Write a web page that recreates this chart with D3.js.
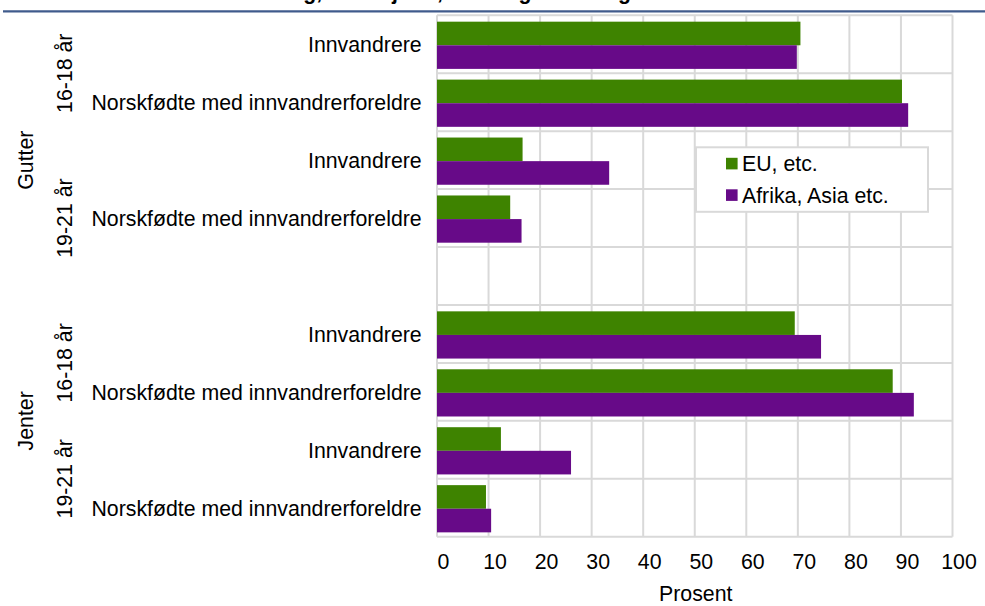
<!DOCTYPE html>
<html>
<head>
<meta charset="utf-8">
<script src="https://cdn.jsdelivr.net/npm/d3@7"></script>
<style>
  html, body { margin: 0; padding: 0; background: #ffffff; }
  svg { display: block; font-family: "Liberation Sans", Arial, sans-serif; }
</style>
</head>
<body>
<svg id="chart" width="985" height="606"></svg>
<script>
// ---- Data ----
const title = "Andel i utdanning, etter kjønn, alder og landbakgrunn. 2010";
const categories = [
  "Innvandrere", "Norskfødte med innvandrerforeldre",
  "Innvandrere", "Norskfødte med innvandrerforeldre",
  "",
  "Innvandrere", "Norskfødte med innvandrerforeldre",
  "Innvandrere", "Norskfødte med innvandrerforeldre"
];
const seriesNames = ["EU, etc.", "Afrika, Asia etc."];
const euValues     = [70.5, 90.2, 16.6, 14.2, null, 69.4, 88.4, 12.4, 9.5];
const afrikaValues = [69.8, 91.4, 33.4, 16.4, null, 74.5, 92.5, 26.0, 10.5];
const ageLabels    = ["16-18 år", "19-21 år", "16-18 år", "19-21 år"];
const ageSpans     = [[0, 2], [2, 5], [5, 7], [7, 9]];
const genderLabels = ["Gutter", "Jenter"];
const genderSpans  = [[0, 5], [5, 9]];
const xTicks = [0, 10, 20, 30, 40, 50, 60, 70, 80, 90, 100];
const xTitle = "Prosent";

// ---- Layout ----
const colors = ["#3e8300", "#670a88"];
const gridColor = "#d9d9d9";
const fontSize = 21.3;
const pLeft = 437, pRight = 952.5, pTop = 15.3, pBottom = 536.7;

const svg = d3.select("#chart");

const x = d3.scaleLinear().domain([0, 100]).range([pLeft, pRight]);
const idx = d3.range(categories.length);
const y = d3.scaleBand().domain(idx).range([pTop, pBottom]).padding(0);
const bw = y.bandwidth();
const sub = d3.scaleBand().domain([0, 1]).range([bw * 0.11, bw * 0.925]).padding(0);

// Title (cut off at top, as in the reference)
svg.append("text")
  .attr("x", 437).attr("y", -1)
  .attr("text-anchor", "middle")
  .attr("font-weight", "bold")
  .attr("font-size", fontSize)
  .attr("fill", "#000")
  .text(title);

// Blue rule
svg.append("line")
  .attr("x1", 3).attr("x2", 985).attr("y1", 11.3).attr("y2", 11.3)
  .attr("stroke", "#405b8c").attr("stroke-width", 2.2);

// Gridlines
const grid = svg.append("g");
grid.selectAll("line.v").data(xTicks).join("line")
  .attr("class", "v")
  .attr("x1", d => x(d)).attr("x2", d => x(d))
  .attr("y1", pTop).attr("y2", pBottom)
  .attr("stroke", gridColor).attr("stroke-width", 2);
grid.selectAll("line.h").data(d3.range(categories.length + 1)).join("line")
  .attr("class", "h")
  .attr("x1", pLeft).attr("x2", pRight)
  .attr("y1", d => pTop + d * bw).attr("y2", d => pTop + d * bw)
  .attr("stroke", gridColor).attr("stroke-width", 2);

// Bars
const seriesData = [euValues, afrikaValues];
seriesData.forEach((vals, s) => {
  svg.append("g").selectAll("rect")
    .data(idx.filter(i => vals[i] != null))
    .join("rect")
    .attr("x", x(0))
    .attr("y", i => y(i) + sub(s))
    .attr("width", i => x(vals[i]) - x(0))
    .attr("height", sub.bandwidth())
    .attr("fill", colors[s]);
});

// X axis tick labels
const xAxis = d3.axisBottom(x).tickValues(xTicks).tickSize(0).tickPadding(0).tickFormat(d3.format("d"));
const xg = svg.append("g").attr("transform", `translate(0,${pBottom})`).call(xAxis);
xg.select(".domain").remove();
xg.selectAll("text")
  .attr("font-size", fontSize)
  .attr("font-family", "'Liberation Sans', Arial, sans-serif")
  .attr("fill", "#000")
  .attr("dy", null)
  .attr("y", 569 - pBottom)
  .attr("dx", 6);

svg.append("text")
  .attr("x", (pLeft + pRight) / 2 + 1).attr("y", 600.5)
  .attr("text-anchor", "middle")
  .attr("font-size", fontSize)
  .attr("fill", "#000")
  .text(xTitle);

// Category labels
svg.append("g").selectAll("text")
  .data(idx.filter(i => categories[i] !== ""))
  .join("text")
  .attr("x", 421.7)
  .attr("y", i => y(i) + bw / 2 + 7.8)
  .attr("text-anchor", "end")
  .attr("font-size", fontSize)
  .attr("fill", "#000")
  .text(i => categories[i]);

// Age group labels (rotated)
svg.append("g").selectAll("text")
  .data(ageLabels)
  .join("text")
  .attr("transform", (d, k) => {
    const cy = (y(ageSpans[k][0]) + y(ageSpans[k][1] - 1) + bw) / 2;
    return `translate(71.7,${cy}) rotate(-90)`;
  })
  .attr("text-anchor", "middle")
  .attr("font-size", fontSize)
  .attr("fill", "#000")
  .text(d => d);

// Gender labels (rotated)
svg.append("g").selectAll("text")
  .data(genderLabels)
  .join("text")
  .attr("transform", (d, k) => {
    const cy = (y(genderSpans[k][0]) + y(genderSpans[k][1] - 1) + bw) / 2;
    return `translate(33.3,${cy}) rotate(-90)`;
  })
  .attr("text-anchor", "middle")
  .attr("font-size", fontSize)
  .attr("fill", "#000")
  .text(d => d);

// Legend
const lg = svg.append("g");
lg.append("rect")
  .attr("x", 696).attr("y", 147.3).attr("width", 232).attr("height", 64.5)
  .attr("fill", "#fff").attr("stroke", gridColor).attr("stroke-width", 2);
seriesNames.forEach((name, s) => {
  lg.append("rect")
    .attr("x", 726).attr("y", 157.8 + s * 31.5)
    .attr("width", 11.6).attr("height", 11.6)
    .attr("fill", colors[s]);
  lg.append("text")
    .attr("x", 742).attr("y", 171 + s * 31.6)
    .attr("font-size", fontSize)
    .attr("fill", "#000")
    .text(name);
});
</script>
</body>
</html>
